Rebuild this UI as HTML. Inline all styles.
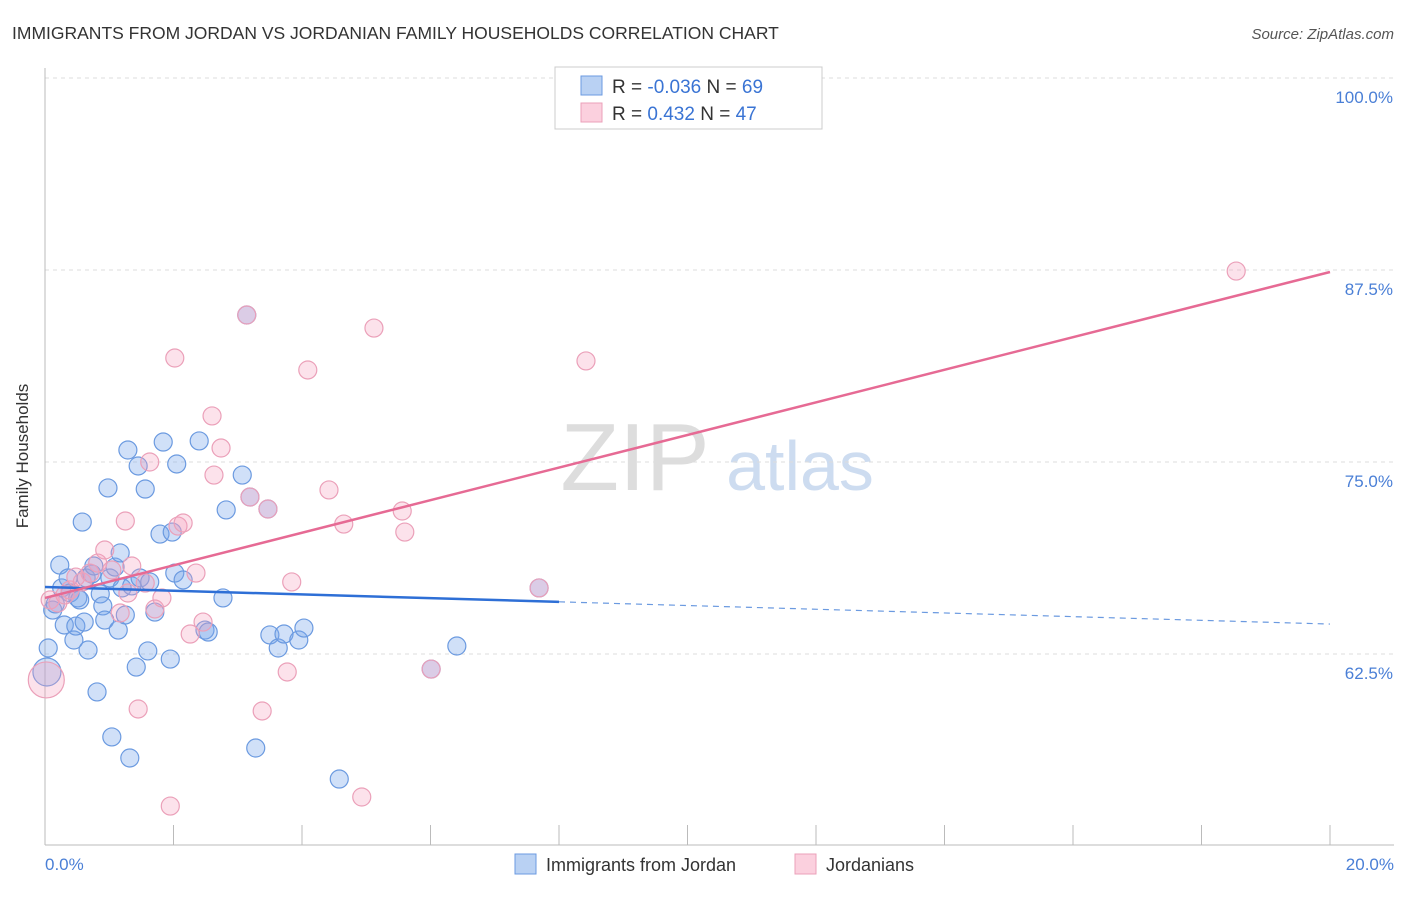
<!DOCTYPE html>
<html><head><meta charset="utf-8"><style>
body{margin:0;background:#fff;font-family:"Liberation Sans",sans-serif}
svg text{font-family:"Liberation Sans",sans-serif}
</style></head><body>
<svg id="c" width="1406" height="892" xmlns="http://www.w3.org/2000/svg">
<text x="12" y="39" font-size="17.5" fill="#333">IMMIGRANTS FROM JORDAN VS JORDANIAN FAMILY HOUSEHOLDS CORRELATION CHART</text>
<text x="1394" y="39" font-size="15" fill="#555" text-anchor="end" font-style="italic">Source: ZipAtlas.com</text>
<text x="635" y="490" font-size="96" fill="#ddd" font-family="Liberation Serif" text-anchor="middle">ZIP</text>
<text x="800" y="490" font-size="70" fill="#cddcf0" text-anchor="middle">atlas</text>
<g id="grid"></g>
<line x1="45" y1="68" x2="45" y2="845" stroke="#bbb"/>
<line x1="45" y1="845" x2="1394" y2="845" stroke="#bbb"/>
<text x="28" y="456" font-size="17" fill="#333" text-anchor="middle" transform="rotate(-90 28 456)">Family Households</text>
<text x="45" y="870" font-size="17" fill="#4a7fd6">0.0%</text>
<text x="1394" y="870" font-size="17" fill="#4a7fd6" text-anchor="end">20.0%</text>
<g id="pts"></g>
<g id="lines"></g>
<g>
<rect x="555" y="67" width="267" height="62" fill="#fff" stroke="#ccc"/>
<rect x="581" y="76" width="21" height="19" fill="#b9d1f3" stroke="#6b9ae0"/>
<rect x="581" y="103" width="21" height="19" fill="#fbd0de" stroke="#eba0b9"/>
<text x="612" y="93" font-size="19" fill="#333">R = <tspan fill="#3a74d4">-0.036</tspan>   N = <tspan fill="#3a74d4">69</tspan></text>
<text x="612" y="120" font-size="19" fill="#333">R = <tspan fill="#3a74d4"> 0.432</tspan>   N = <tspan fill="#3a74d4">47</tspan></text>
</g>
<g>
<rect x="515" y="854" width="21" height="20" fill="#b9d1f3" stroke="#6b9ae0"/>
<text x="546" y="871" font-size="18" fill="#333">Immigrants from Jordan</text>
<rect x="795" y="854" width="21" height="20" fill="#fbd0de" stroke="#eba0b9"/>
<text x="826" y="871" font-size="18" fill="#333">Jordanians</text>
</g>
</svg>
<script>
const yTicks=[62.5,75,87.5,100];
const yTickLabels=["62.5%","75.0%","87.5%","100.0%"];
const xTickVals=[2,4,6,8,10,12,14,16,18,20];
const blueX=[.05,.03,.12,.16,.23,.26,.30,.36,.39,.45,.48,.51,.54,.58,.61,.64,.67,.73,.76,.81,.86,.90,.93,.98,1.01,1.04,1.09,1.14,1.17,1.20,1.25,1.29,1.32,1.35,1.42,1.45,1.48,1.56,1.60,1.63,1.71,1.79,1.84,1.95,1.98,2.02,2.05,2.15,2.40,2.49,2.54,2.77,2.82,3.07,3.28,3.50,3.63,3.72,3.95,4.03,4.58,6.41,3.14,3.19,3.47,6.01,7.69];
const blueY=[62.89,61.33,65.36,65.76,68.29,66.80,64.39,67.45,66.47,63.41,64.32,66.15,66.02,71.09,64.58,67.45,62.76,67.71,68.23,60.03,66.41,65.63,64.71,73.31,67.45,57.10,68.16,64.06,69.08,66.80,65.04,75.78,55.73,66.93,61.65,74.74,67.45,73.24,62.70,67.19,65.23,70.31,76.30,62.17,70.44,67.77,74.87,67.32,76.37,64.06,63.93,66.15,71.88,74.15,56.38,63.74,62.89,63.80,63.41,64.19,54.36,63.02,84.57,72.72,71.94,61.52,66.80];
const pinkX=[.02,.08,.20,.31,.39,.48,.58,.70,.82,.93,1.04,1.17,1.25,1.29,1.35,1.45,1.56,1.63,1.71,1.82,1.95,2.02,2.07,2.15,2.26,2.35,2.46,2.60,2.63,2.74,3.38,3.77,3.84,4.09,4.42,4.65,4.93,5.12,5.56,5.60,8.42,18.54,3.14,3.19,3.47,6.01,7.69];
const pinkY=[60.81,66.02,65.82,66.34,66.67,67.51,67.19,67.77,68.42,69.27,67.97,65.17,71.16,66.47,68.23,58.92,67.12,75.00,65.43,66.15,52.60,81.77,70.83,71.03,63.80,67.77,64.58,78.00,74.15,75.91,58.79,61.33,67.19,80.99,73.18,70.96,53.19,83.72,71.81,70.44,81.58,87.43,84.57,72.72,71.94,61.52,66.80];
const blueTrend=[66.86,64.45];
const pinkTrend=[66.15,87.37];
const NS="http://www.w3.org/2000/svg";
const X=v=>45+v/20*1285;
const Y=v=>78+(100-v)/12.5*192;
function mk(t,a,p){const e=document.createElementNS(NS,t);for(const k in a)e.setAttribute(k,a[k]);p.appendChild(e);return e;}
const grid=document.getElementById('grid');
yTicks.forEach((t,i)=>{
 const l=mk('line',{x1:45,x2:1394,y1:Y(t),y2:Y(t),stroke:'#ddd','stroke-dasharray':'4,4'},grid);
 
 
 const tx=mk('text',{x:1393,y:Y(t)+25,'font-size':17,fill:'#4a7fd6','text-anchor':'end'},grid);
 tx.textContent=yTickLabels[i];
 
 
});
xTickVals.forEach(v=>{
 const l=mk('line',{x1:X(v),x2:X(v),y1:825,y2:845,stroke:'#bbb'},grid);
 
 
});
const pts=document.getElementById('pts');
blueX.forEach((x,i)=>{
 const c=mk('circle',{cx:X(x),cy:Y(blueY[i]),r:i==1?14:9,fill:'rgba(120,165,235,0.35)',stroke:'#6b9ae0','stroke-width':1.2},pts);
 
 
});
pinkX.forEach((x,i)=>{
 const c=mk('circle',{cx:X(x),cy:Y(pinkY[i]),r:i==0?18:9,fill:'rgba(245,160,190,0.3)',stroke:'#eba0b9','stroke-width':1.2},pts);
 
 
});
const lines=document.getElementById('lines');
const bAt=x=>blueTrend[0]+(blueTrend[1]-blueTrend[0])*x/20;
let l=mk('line',{x1:X(0),y1:Y(bAt(0)),x2:X(8),y2:Y(bAt(8)),stroke:'#2e6fd6','stroke-width':2.5},lines);


l=mk('line',{x1:X(8),y1:Y(bAt(8)),x2:X(20),y2:Y(bAt(20)),stroke:'#6b9ae0','stroke-width':1.2,'stroke-dasharray':'6,5'},lines);


l=mk('line',{x1:X(0),y1:Y(pinkTrend[0]),x2:X(20),y2:Y(pinkTrend[1]),stroke:'#e66a94','stroke-width':2.5},lines);


</script>
</body></html>
